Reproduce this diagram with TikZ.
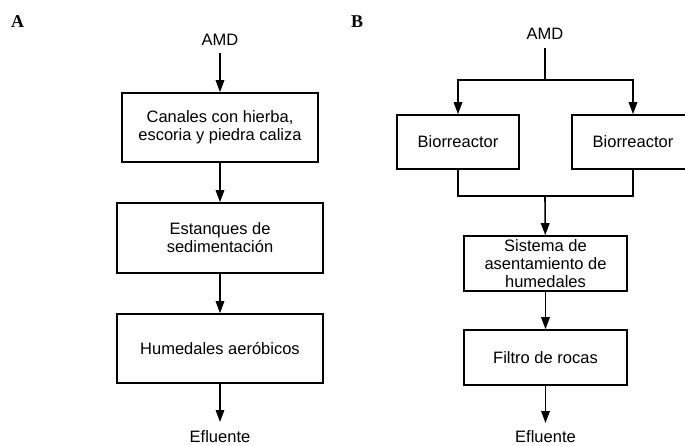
\documentclass[tikz,border=0pt]{standalone}
\usepackage{fontspec}
\setmainfont{Liberation Sans}
\newfontfamily\panelfont{Liberation Serif}
\usetikzlibrary{arrows.meta}
\tikzset{
  stage/.style={draw, line width=1.6pt, align=center, inner sep=2pt,
    font=\fontsize{16.5}{18}\selectfont},
  flow/.style={line width=1.6pt},
  arr/.style={flow, -{Triangle[length=12pt,width=8.5pt]}},
  lbl/.style={anchor=base, inner sep=0pt, font=\fontsize{16.5}{18}\selectfont},
  panel/.style={anchor=base west, inner sep=0pt, font=\panelfont\bfseries\fontsize{18}{18}\selectfont}
}
\begin{document}
\begin{tikzpicture}[x=1pt, y=-1pt]
  \useasboundingbox[fill=white] (0,0) rectangle (685,445);
  % panel A
  \node[panel] (tagA) at (11,27) {A};
  \node[lbl] (amdA) at (220,45) {AMD};
  \node[stage, minimum width=196pt, minimum height=69pt] (canales) at (220,127.5)
    {Canales con hierba,\\escoria y piedra caliza};
  \node[stage, minimum width=206pt, minimum height=70pt] (estanques) at (220,238)
    {Estanques de\\sedimentación};
  \node[stage, minimum width=206pt, minimum height=69pt] (humedales) at (220,348.5)
    {Humedales aeróbicos};
  \node[lbl] (efA) at (220,442) {Efluente};
  \coordinate (inA) at (220,53);
  \coordinate (outA) at (220,422);
  \draw[arr] (inA) -- (canales);
  \draw[arr] (canales) -- (estanques);
  \draw[arr] (estanques) -- (humedales);
  \draw[arr] (humedales) -- (outA);
  % panel B
  \node[panel] (tagB) at (351,27) {B};
  \node[lbl] (amdB) at (545,39) {AMD};
  \node[stage, minimum width=122pt, minimum height=54pt] (bioL) at (458,142) {Biorreactor};
  \node[stage, minimum width=122pt, minimum height=54pt] (bioR) at (633,142) {Biorreactor};
  \node[stage, minimum width=163pt, minimum height=55pt] (sistema) at (545.5,263.5)
    {Sistema de\\asentamiento de\\humedales};
  \node[stage, minimum width=163pt, minimum height=55pt] (filtro) at (545.5,357.5)
    {Filtro de rocas};
  \node[lbl] (efB) at (545.5,442) {Efluente};
  \coordinate (inB) at (545,48);
  \coordinate (split) at (545,80);
  \coordinate (join) at (545,196);
  \coordinate (outB) at (545.5,423);
  \draw[flow] (inB) -- (split);
  \draw[arr] (split) -| (bioL);
  \draw[arr] (split) -| (bioR);
  \draw[flow] (bioL) |- (join) -| (bioR);
  \draw[arr] (join) -- (sistema);
  \draw[arr] (sistema) -- (filtro);
  \draw[arr] (filtro) -- (outB);
\end{tikzpicture}
\end{document}
